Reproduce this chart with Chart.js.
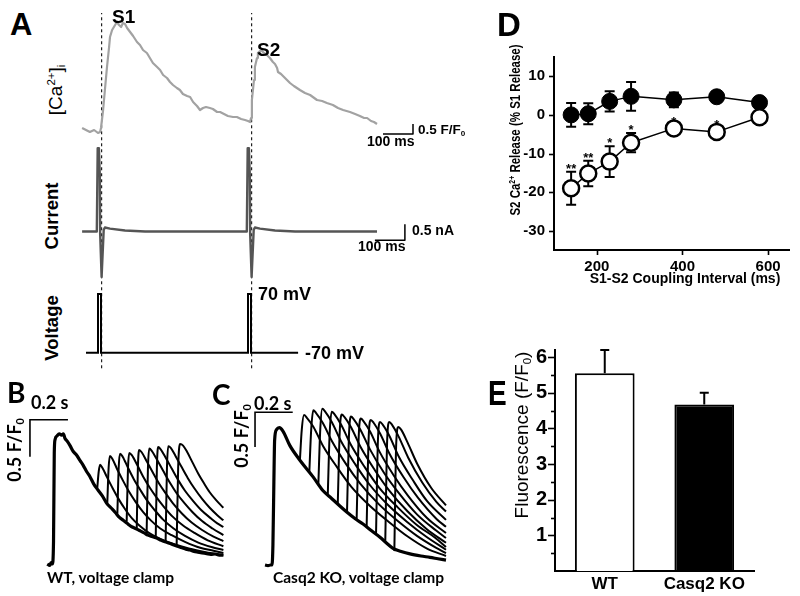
<!DOCTYPE html>
<html>
<head>
<meta charset="utf-8">
<script src="https://cdn.jsdelivr.net/npm/chart.js@4/dist/chart.umd.min.js"></script>
<style>
body { margin: 0; background: #fff; }
#fig { position: relative; width: 800px; height: 596px; overflow: hidden; font-family: "Liberation Sans", Arial, sans-serif; }
canvas { position: absolute; }
.t { position: absolute; line-height: 1; white-space: nowrap; color: #000; }
.b { font-weight: bold; }
.rot { transform: translate(-50%, -50%) rotate(-90deg); }
.cal { font-family: Lato, "Open Sans", sans-serif; font-weight: 700; }
.t sup { font-size: 0.6em; vertical-align: 0.6em; line-height: 0; }
.t sub { font-size: 0.6em; vertical-align: -0.3em; line-height: 0; }
</style>
</head>
<body>
<div id="fig">
  <canvas id="cA" width="420" height="372" style="left:71px;top:0px"></canvas>
  <canvas id="cB" width="208" height="180" style="left:23px;top:400px"></canvas>
  <canvas id="cC" width="210" height="185" style="left:245px;top:395px"></canvas>
  <canvas id="cD" width="310" height="300" style="left:490px;top:0px"></canvas>
  <canvas id="cE" width="290" height="266" style="left:500px;top:330px"></canvas>

  <!-- panel A -->
  <div class="t b" style="left:10px;top:9px;font-size:31px">A</div>
  <div class="t b" style="left:112px;top:7px;font-size:19px">S1</div>
  <div class="t b" style="left:257px;top:40px;font-size:19px">S2</div>
  <div class="t rot" style="left:55px;top:90px;font-size:19px">[Ca<sup>2+</sup>]<sub>i</sub></div>
  <div class="t b rot" style="left:52px;top:216px;font-size:18.5px">Current</div>
  <div class="t b rot" style="left:52px;top:328px;font-size:18.5px">Voltage</div>
  <div class="t b" style="left:258px;top:285px;font-size:18px">70 mV</div>
  <div class="t b" style="left:305px;top:344px;font-size:18px">-70 mV</div>
  <div class="t b" style="left:367px;top:134px;font-size:14px">100 ms</div>
  <div class="t b" style="left:418px;top:123px;font-size:13.5px">0.5 F/F<sub>0</sub></div>
  <div class="t b" style="left:412px;top:223px;font-size:14px">0.5 nA</div>
  <div class="t b" style="left:358px;top:239px;font-size:14px">100 ms</div>

  <!-- panel B / C -->
  <div class="t cal" style="left:7px;top:378px;font-size:28px">B</div>
  <div class="t cal" style="left:31px;top:393px;font-size:18px">0.2 s</div>
  <div class="t cal rot" style="left:14px;top:450px;font-size:18px">0.5 F/F<sub>0</sub></div>
  <div class="t cal" style="left:47px;top:570px;font-size:15.5px">WT, voltage clamp</div>
  <div class="t cal" style="left:212px;top:380px;font-size:28px">C</div>
  <div class="t cal" style="left:254px;top:394px;font-size:18px">0.2 s</div>
  <div class="t cal rot" style="left:241px;top:436px;font-size:18px">0.5 F/F<sub>0</sub></div>
  <div class="t cal" style="left:273px;top:570px;font-size:15.5px">Casq2 KO, voltage clamp</div>

  <!-- panel D -->
  <div class="t b" style="left:497px;top:8px;font-size:33px">D</div>
  <div class="t b" style="left:515px;top:130px;font-size:15.5px;transform:translate(-50%,-50%) rotate(-90deg) scaleX(0.74)">S2 Ca<sup>2+</sup> Release (% S1 Release)</div>
  <div class="t b" style="left:685px;top:271px;font-size:14px;transform:translateX(-50%)">S1-S2 Coupling Interval (ms)</div>

  <!-- panel E -->
  <div class="t b" style="left:488px;top:375px;font-size:35px;transform:scaleX(0.8);transform-origin:0 0">E</div>
  <div class="t rot" style="left:521px;top:435px;font-size:19px">Fluorescence (F/F<sub>0</sub>)</div>
</div>

<script>
// ---- panel A: S1-S2 protocol (time in ms from S1) ----
const caTime = [-63, -50, -37, -23, -10, -3, 0, 7, 13, 20, 27, 30, 37, 47, 53, 60, 67, 73, 80, 87, 97, 107, 120, 130, 140, 153, 163, 173, 187, 197, 207, 220, 230, 240, 253, 263, 273, 287, 297, 307, 320, 330, 340, 350, 363, 373, 387, 397, 410, 423, 440, 453, 467, 480, 490, 497,
  500, 503, 510, 513, 520, 523, 530, 537, 543, 553, 563, 573, 580, 587, 590, 600, 610, 620, 630, 643, 663, 680, 697, 720, 737, 753, 773, 790, 807, 830, 847, 863, 877, 887, 900, 910, 920];
const caValue = [1.10, 1.0, 0.9, 1.0, 0.85, 0.9, 1.1, 2.0, 3.0, 4.15, 5.15, 5.65, 6.0, 6.25, 6.4, 6.25, 6.15, 6.35, 6.3, 6.1, 5.9, 5.7, 5.4, 5.25, 5.0, 4.85, 4.6, 4.35, 4.15, 4.0, 3.75, 3.6, 3.4, 3.25, 3.1, 3.0, 2.8, 2.7, 2.65, 2.4, 2.2, 2.0, 2.1, 2.15, 2.1, 2.05, 1.9, 1.9, 1.8, 1.7, 1.65, 1.65, 1.55, 1.5, 1.45, 1.4,
  1.6, 2.5, 3.5, 4.15, 4.6, 4.85, 4.95, 4.95, 4.85, 4.75, 4.6, 4.4, 4.3, 4.1, 3.9, 3.8, 3.65, 3.5, 3.35, 3.2, 3.0, 2.85, 2.75, 2.5, 2.45, 2.35, 2.25, 2.1, 2.0, 1.9, 1.8, 1.7, 1.6, 1.6, 1.45, 1.4, 1.3];
const curTime = [-63, -14, -11, -7, -4, -3, 2, 9, 13, 30, 80, 147, 486, 489, 493, 496, 497, 502, 509, 513, 530, 580, 647, 920];
const curValue = [0, 0, 2.6, 2.6, 1.77, 0, -1.42, 0.05, 0.125, 0.09, 0.03, 0, 0, 2.6, 2.6, 1.77, 0, -1.42, 0.05, 0.125, 0.09, 0.03, 0, 0];
const vTime = [-50, -10, -10, 0, 0, 490, 490, 500, 500, 657];
const vValue = [-70, -70, 70, 70, -70, -70, 70, 70, -70, -70];
const stimLines = [2, 502];
const caBarT = [940, 1040], caBarF = [0.8, 1.3];
const curBarT = [913, 1013], curBarI = [-0.27, 0.23];

// ---- panel B: WT, F/F0 vs time (ms) ----
const wtBase = [[-25, 1.0], [-12, 0.98], [-5, 1.02], [2, 1.0], [8, 1.3], [12, 2.5], [16, 2.68], [26, 2.73], [38, 2.76], [51, 2.74], [60, 2.76], [68, 2.70], [80, 2.66], [95, 2.6], [112, 2.52], [130, 2.47], [147, 2.40], [165, 2.33], [182, 2.25], [200, 2.18], [220, 2.08], [242, 2.0], [265, 1.92], [288, 1.82], [310, 1.76], [332, 1.70], [355, 1.63], [375, 1.59], [395, 1.55], [416, 1.51], [440, 1.48], [463, 1.45], [485, 1.42], [505, 1.39], [530, 1.37], [551, 1.35], [575, 1.32], [595, 1.30], [618, 1.28], [638, 1.26], [660, 1.24], [684, 1.22], [705, 1.20], [726, 1.19], [748, 1.17], [768, 1.16], [790, 1.15], [814, 1.14], [836, 1.13], [858, 1.135], [880, 1.12], [902, 1.12]];
const wtS2 = [
  [[238, 2.02], [246, 2.25], [253, 2.34], [265, 2.30], [290, 2.17], [320, 2.02], [350, 1.88], [385, 1.74], [420, 1.62], [460, 1.52], [510, 1.42], [570, 1.34], [640, 1.27], [720, 1.21], [810, 1.16], [902, 1.12]],
  [[291, 1.82], [298, 2.3], [305, 2.46], [318, 2.42], [345, 2.27], [375, 2.12], [405, 1.98], [440, 1.84], [480, 1.70], [520, 1.59], [570, 1.48], [630, 1.39], [700, 1.30], [780, 1.22], [850, 1.18], [902, 1.15]],
  [[344, 1.68], [351, 2.3], [358, 2.49], [372, 2.45], [400, 2.30], [430, 2.15], [465, 2.0], [500, 1.86], [540, 1.73], [585, 1.60], [640, 1.48], [700, 1.38], [770, 1.29], [840, 1.23], [902, 1.19]],
  [[393, 1.57], [400, 2.3], [407, 2.50], [420, 2.47], [450, 2.33], [480, 2.18], [515, 2.03], [550, 1.90], [590, 1.77], [635, 1.64], [690, 1.52], [750, 1.42], [820, 1.32], [902, 1.24]],
  [[446, 1.48], [452, 2.3], [459, 2.54], [472, 2.51], [500, 2.38], [530, 2.24], [565, 2.08], [600, 1.95], [640, 1.81], [685, 1.68], [735, 1.56], [790, 1.46], [850, 1.37], [902, 1.31]],
  [[498, 1.41], [505, 2.3], [512, 2.56], [525, 2.53], [555, 2.40], [585, 2.26], [620, 2.10], [655, 1.96], [695, 1.83], [740, 1.70], [790, 1.58], [845, 1.48], [902, 1.39]],
  [[546, 1.35], [552, 2.3], [559, 2.58], [572, 2.55], [600, 2.43], [630, 2.29], [665, 2.13], [700, 1.99], [740, 1.86], [785, 1.73], [835, 1.62], [870, 1.55], [902, 1.50]],
  [[598, 1.30], [605, 2.3], [612, 2.59], [625, 2.57], [650, 2.46], [680, 2.32], [715, 2.16], [750, 2.02], [790, 1.88], [830, 1.76], [870, 1.66], [902, 1.59]],
  [[656, 1.25], [664, 2.3], [674, 2.62], [690, 2.60], [710, 2.52], [740, 2.37], [770, 2.22], [800, 2.09], [830, 1.97], [865, 1.86], [902, 1.76]]
];
const barB = [[-116, 2.45], [-116, 2.95], [84, 2.95]];

// ---- panel C: Casq2 KO ----
const koBase = [[-37, 1.0], [-21, 0.99], [-8, 1.0], [0, 1.0], [5, 1.3], [10, 2.2], [14, 2.8], [24, 2.95], [39, 2.98], [58, 2.93], [95, 2.72], [148, 2.51], [218, 2.27], [271, 2.07], [308, 1.98], [360, 1.85], [398, 1.76], [440, 1.67], [483, 1.59], [530, 1.49], [573, 1.40], [610, 1.31], [642, 1.24], [690, 1.19], [732, 1.16], [790, 1.13], [838, 1.11], [880, 1.09], [923, 1.07]];
const koS2 = [
  [[148, 2.51], [158, 2.95], [170, 3.16], [185, 3.12], [220, 2.99], [270, 2.72], [345, 2.41], [420, 2.13], [520, 1.85], [620, 1.62], [720, 1.41], [820, 1.24], [923, 1.13]],
  [[198, 2.34], [208, 2.95], [219, 3.23], [234, 3.19], [269, 3.05], [319, 2.78], [394, 2.45], [469, 2.17], [569, 1.87], [669, 1.63], [769, 1.42], [869, 1.25], [923, 1.17]],
  [[246, 2.17], [256, 2.95], [267, 3.25], [282, 3.21], [317, 3.06], [367, 2.78], [442, 2.45], [517, 2.16], [617, 1.86], [717, 1.62], [817, 1.41], [923, 1.22]],
  [[296, 2.02], [306, 2.9], [317, 3.21], [332, 3.17], [367, 3.02], [417, 2.74], [492, 2.41], [567, 2.12], [667, 1.83], [767, 1.58], [867, 1.39], [923, 1.26]],
  [[349, 1.89], [359, 2.9], [370, 3.17], [385, 3.13], [420, 2.98], [470, 2.70], [545, 2.37], [620, 2.08], [720, 1.77], [820, 1.52], [923, 1.32]],
  [[398, 1.76], [408, 2.85], [419, 3.14], [434, 3.10], [469, 2.95], [519, 2.67], [594, 2.33], [669, 2.05], [769, 1.73], [869, 1.50], [923, 1.39]],
  [[449, 1.66], [460, 2.85], [471, 3.11], [486, 3.07], [521, 2.92], [571, 2.63], [646, 2.29], [721, 2.00], [821, 1.68], [923, 1.46]],
  [[502, 1.55], [513, 2.85], [524, 3.09], [539, 3.05], [574, 2.89], [624, 2.60], [699, 2.26], [774, 1.97], [874, 1.66], [923, 1.55]],
  [[552, 1.46], [562, 2.8], [573, 3.06], [588, 3.02], [623, 2.86], [673, 2.56], [748, 2.22], [823, 1.92], [923, 1.65]],
  [[601, 1.35], [611, 2.8], [622, 3.06], [637, 3.02], [672, 2.85], [722, 2.55], [797, 2.19], [872, 1.91], [923, 1.77]],
  [[649, 1.20], [659, 2.75], [670, 2.99], [685, 2.95], [720, 2.76], [770, 2.46], [845, 2.11], [923, 1.86]]
];
const barC = [[-90, 2.7], [-90, 3.2], [110, 3.2]];

// ---- panel D: S2 release vs coupling interval ----
const dInterval = [140, 180, 230, 280, 380, 480, 580];
const wtMean = [0, 0.3, 3.5, 4.8, 3.9, 4.7, 3.2];
const wtErr = [3.1, 2.7, 2.6, 3.7, 1.9, 1.3, 1.0];
const koMean = [-19.0, -15.2, -12.1, -7.2, -3.5, -4.4, -0.6];
const koErr = [4.3, 3.3, 4.0, 2.5, 1.0, 1.0, 1.0];
const koSig = ['**', '**', '*', '*', '*', '*', ''];
const dTicksY = [-30, -20, -10, 0, 10];
const dTicksX = [200, 400, 600];

// ---- panel E: peak fluorescence ----
const eGroups = ['WT', 'Casq2 KO'];
const eMean = [5.55, 4.67];
const eErr = [0.65, 0.33];
const eTicksY = [1, 2, 3, 4, 5, 6];
const eMinorY = [0.5, 1.5, 2.5, 3.5, 4.5, 5.5];

Chart.defaults.font.family = '"Liberation Sans", Arial, sans-serif';
Chart.defaults.color = '#000';

function xy(xs, ys) { return xs.map((x, i) => ({ x: x, y: ys[i] })); }
function pairs(p) { return p.map(d => ({ x: d[0], y: d[1] })); }

function baseOptions() {
  return {
    responsive: false, animation: false, events: [], devicePixelRatio: 1,
    plugins: { legend: { display: false }, tooltip: { enabled: false } },
    elements: { point: { radius: 0 }, line: { tension: 0, borderJoinStyle: 'round' } },
    layout: { padding: 0 }
  };
}

// tick marks drawn outward from the axis line
function tickMarks(marks) {
  return {
    id: 'tickMarks',
    afterDraw(chart) {
      const ctx = chart.ctx, area = chart.chartArea;
      ctx.save();
      ctx.strokeStyle = '#000';
      ctx.lineWidth = 1.6;
      marks.forEach(m => {
        const s = chart.scales[m.axis];
        m.values.forEach(v => {
          const p = Math.round(s.getPixelForValue(v)) + 0.5;
          ctx.beginPath();
          if (s.isHorizontal()) { ctx.moveTo(p, area.bottom); ctx.lineTo(p, area.bottom + m.len); }
          else { ctx.moveTo(area.left, p); ctx.lineTo(area.left - m.len, p); }
          ctx.stroke();
        });
      });
      ctx.restore();
    }
  };
}

function errorBars(list, cap, hook) {
  const p = { id: 'errorBars' };
  p[hook] = function (chart) {
    const ctx = chart.ctx, ys = chart.scales.y;
    ctx.save();
    ctx.strokeStyle = '#000';
    ctx.lineWidth = 2;
    list.forEach(e => {
      const meta = chart.getDatasetMeta(e.ds);
      e.mean.forEach((m, j) => {
        const x = meta.data[j].x;
        const top = ys.getPixelForValue(m + e.err[j]);
        const bot = e.down ? ys.getPixelForValue(m - e.err[j]) : ys.getPixelForValue(m);
        ctx.beginPath();
        ctx.moveTo(x, top); ctx.lineTo(x, bot);
        ctx.moveTo(x - cap / 2, top); ctx.lineTo(x + cap / 2, top);
        if (e.down) { ctx.moveTo(x - cap / 2, bot); ctx.lineTo(x + cap / 2, bot); }
        ctx.stroke();
      });
    });
    ctx.restore();
  };
  return p;
}

// panel A
const optA = baseOptions();
optA.scales = {
  x: { type: 'linear', min: -100, max: 1300, display: false },
  yCa: { min: -11.1, max: 7.5, display: false },
  yI: { min: -4.391, max: 7.234, display: false },
  yV: { min: -116.0, max: 771.2, display: false },
  yF: { min: 0, max: 1, display: false }
};
const dsA = [
  { data: xy(caTime, caValue), yAxisID: 'yCa', borderColor: '#a2a2a2', borderWidth: 2.2 },
  { data: xy(curTime, curValue), yAxisID: 'yI', borderColor: '#555', borderWidth: 2.4 },
  { data: xy(vTime, vValue), yAxisID: 'yV', borderColor: '#000', borderWidth: 2, borderJoinStyle: 'miter' },
  { data: xy(caBarT, [caBarF[0], caBarF[0]]).concat([{ x: caBarT[1], y: caBarF[1] }]), yAxisID: 'yCa', borderColor: '#000', borderWidth: 1.5 },
  { data: xy(curBarT, [curBarI[0], curBarI[0]]).concat([{ x: curBarT[1], y: curBarI[1] }]), yAxisID: 'yI', borderColor: '#000', borderWidth: 1.5 }
];
stimLines.forEach(s => dsA.push({ data: [{ x: s, y: 0.01 }, { x: s, y: 0.965 }], yAxisID: 'yF', borderColor: '#222', borderWidth: 1.2, borderDash: [3, 3] }));
new Chart(document.getElementById('cA'), { type: 'line', data: { datasets: dsA }, options: optA });

// panels B and C
function tracePanel(id, base, traces, bar, xr, yr) {
  const opt = baseOptions();
  opt.scales = {
    x: { type: 'linear', min: xr[0], max: xr[1], display: false },
    y: { min: yr[0], max: yr[1], display: false }
  };
  const ds = [{ data: pairs(bar), borderColor: '#000', borderWidth: 1.6, borderJoinStyle: 'miter' }];
  traces.forEach(t => ds.push({ data: pairs(t), borderColor: '#000', borderWidth: 2, cubicInterpolationMode: 'monotone' }));
  ds.push({ data: pairs(base), borderColor: '#000', borderWidth: 3.2, cubicInterpolationMode: 'monotone' });
  new Chart(document.getElementById(id), { type: 'line', data: { datasets: ds }, options: opt });
}
tracePanel('cB', wtBase, wtS2, barB, [-152.6, 942.1], [0.784, 3.216]);
tracePanel('cC', koBase, koS2, barC, [-143.2, 970.8], [0.784, 3.4496]);

// panel D
const optD = baseOptions();
optD.layout = { padding: { top: 57, right: 7, left: 0, bottom: 0 } };
optD.scales = {
  x: {
    type: 'linear', min: 100, max: 650,
    afterBuildTicks: s => { s.ticks = dTicksX.map(v => ({ value: v })); },
    afterFit: s => { s.height = 50; },
    grid: { display: false, drawTicks: false },
    border: { display: true, color: '#000', width: 2 },
    ticks: { font: { size: 15, weight: 'bold' }, padding: 8, maxRotation: 0 }
  },
  y: {
    min: -35, max: 15,
    afterBuildTicks: s => { s.ticks = dTicksY.map(v => ({ value: v })); },
    afterFit: s => { s.width = 64; },
    grid: { display: false, drawTicks: false },
    border: { display: true, color: '#000', width: 2 },
    ticks: { font: { size: 15, weight: 'bold' }, padding: 9 }
  }
};
const starPlugin = {
  id: 'stars',
  afterDatasetsDraw(chart) {
    const ctx = chart.ctx, meta = chart.getDatasetMeta(0), ys = chart.scales.y;
    ctx.save();
    ctx.font = 'bold 13px "Liberation Sans", Arial, sans-serif';
    ctx.textAlign = 'center';
    ctx.textBaseline = 'alphabetic';
    ctx.fillStyle = '#000';
    koSig.forEach((s, j) => {
      if (!s) return;
      ctx.fillText(s, meta.data[j].x, ys.getPixelForValue(koMean[j] + koErr[j]) + 1);
    });
    ctx.restore();
  }
};
new Chart(document.getElementById('cD'), {
  type: 'line',
  data: {
    datasets: [
      { data: xy(dInterval, koMean), borderColor: '#000', borderWidth: 1.5, pointRadius: 8, pointBackgroundColor: '#fff', pointBorderColor: '#000', pointBorderWidth: 2.5 },
      { data: xy(dInterval, wtMean), borderColor: '#000', borderWidth: 1.5, pointRadius: 8, pointBackgroundColor: '#000', pointBorderColor: '#000', pointBorderWidth: 1 }
    ]
  },
  options: optD,
  plugins: [
    errorBars([{ ds: 1, mean: wtMean, err: wtErr, down: true }, { ds: 0, mean: koMean, err: koErr, down: true }], 10, 'beforeDatasetsDraw'),
    starPlugin,
    tickMarks([{ axis: 'x', values: dTicksX, len: 5 }, { axis: 'y', values: dTicksY, len: 5 }])
  ]
});

// panel E
const optE = baseOptions();
optE.layout = { padding: { top: 17, right: 36, left: 0, bottom: 0 } };
optE.scales = {
  x: {
    afterFit: s => { s.height = 25; },
    grid: { display: false, drawTicks: false },
    border: { display: true, color: '#000', width: 2 },
    ticks: { font: { size: 17, weight: 'bold' }, padding: 3 }
  },
  y: {
    min: 0, max: 6.2,
    afterBuildTicks: s => { s.ticks = eTicksY.map(v => ({ value: v })); },
    afterFit: s => { s.width = 55; },
    grid: { display: false, drawTicks: false },
    border: { display: true, color: '#000', width: 2 },
    ticks: { font: { size: 20, weight: 'bold' }, padding: 8 }
  }
};
new Chart(document.getElementById('cE'), {
  type: 'bar',
  data: {
    labels: eGroups,
    datasets: [{ data: eMean, backgroundColor: ['#fff', '#000'], borderColor: '#000', borderWidth: 2, barPercentage: 0.6, categoryPercentage: 1 }]
  },
  options: optE,
  plugins: [
    errorBars([{ ds: 0, mean: eMean, err: eErr, down: false }], 9, 'afterDatasetsDraw'),
    tickMarks([{ axis: 'y', values: eTicksY, len: 7 }, { axis: 'y', values: eMinorY, len: 4 }])
  ]
});
</script>
</body>
</html>
